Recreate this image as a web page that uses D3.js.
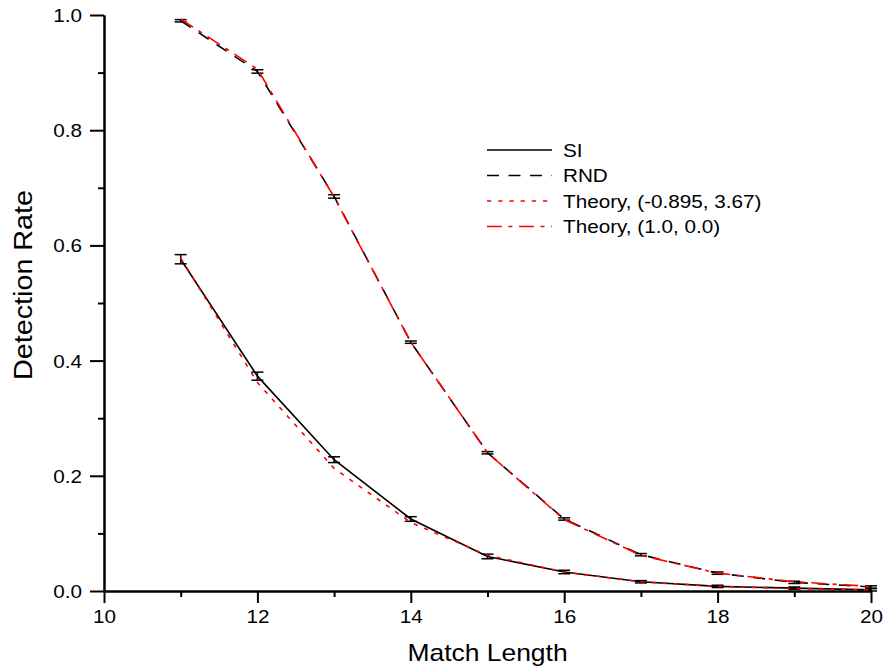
<!doctype html>
<html>
<head>
	<script src="https://d3js.org/d3.v7.min.js"></script>
	<style>
		body { margin: 0; background: #fff; }
		text { font-family: "Liberation Sans", Arial, sans-serif; fill: #000; }
	</style>
</head>
<body>
	<div id="viz">
		<svg style="width:885px;height:672px;"></svg>
	</div>
	<script>
		// match lengths on x
		var matchLength = [11, 12, 13, 14, 15, 16, 17, 18, 19, 20];
		// measured rates with error
		var siRate = [0.576, 0.373, 0.228, 0.125, 0.060, 0.033, 0.016, 0.008, 0.005, 0.002];
		var siErr = [0.008, 0.007, 0.005, 0.004, 0.004, 0.003, 0.002, 0.002, 0.002, 0.002];
		var rndRate = [0.990, 0.902, 0.685, 0.432, 0.240, 0.125, 0.063, 0.031, 0.015, 0.007];
		var rndErr = [0.002, 0.003, 0.003, 0.002, 0.002, 0.002, 0.002, 0.002, 0.002, 0.002];
		// theoretical curves
		var theorySI = [0.578, 0.362, 0.213, 0.119, 0.062, 0.033, 0.016, 0.008, 0.004, 0.002];
		var theoryRND = [0.993, 0.906, 0.684, 0.432, 0.240, 0.124, 0.062, 0.031, 0.016, 0.008];

		var xTicks = [10, 12, 14, 16, 18, 20];
		var yTicks = [0, 0.2, 0.4, 0.6, 0.8, 1.0];
		var legendLabels = ["SI", "RND", "Theory, (-0.895, 3.67)", "Theory, (1.0, 0.0)"];

		dataViz();
		function dataViz() {
			var margin = {top: 15, right: 14, bottom: 81, left: 104};
			var width = 885, height = 672;
			var stretch = 1.15; // text in the original is a bit wide
			var svg = d3.select("svg");

			var xScale = d3.scaleLinear()
				.domain([10, 20])
				.range([margin.left, width - margin.right]);
			var yScale = d3.scaleLinear()
				.domain([0, 1])
				.range([height - margin.bottom, margin.top]);

			// axes: major ticks + minor ticks
			var xAxis = d3.axisBottom(xScale).tickValues(xTicks).tickFormat(d3.format("d"))
				.tickSizeInner(12).tickSizeOuter(0).tickPadding(7);
			var xMinor = d3.axisBottom(xScale).tickValues([11, 13, 15, 17, 19])
				.tickFormat("").tickSizeInner(6).tickSizeOuter(0);
			var yAxis = d3.axisLeft(yScale).tickValues(yTicks).tickFormat(d3.format(".1f"))
				.tickSizeInner(14).tickSizeOuter(0);
			var yMinor = d3.axisLeft(yScale).tickValues([0.1, 0.3, 0.5, 0.7, 0.9])
				.tickFormat("").tickSizeInner(6).tickSizeOuter(0);

			function styleAxis(g) {
				g.select(".domain").attr("stroke", "#000").attr("stroke-width", 2);
				g.selectAll(".tick line").attr("stroke", "#000").attr("stroke-width", 2);
				g.selectAll(".tick text").attr("font-size", 18).attr("fill", "#000")
					.attr("font-family", null);
			}

			svg.append("g")
				.attr("transform", "translate(0," + (height - margin.bottom) + ")")
				.call(xMinor).call(styleAxis);
			var gx = svg.append("g")
				.attr("transform", "translate(0," + (height - margin.bottom) + ")")
				.call(xAxis).call(styleAxis);
			gx.selectAll(".tick text").attr("transform", "scale(" + stretch + ",1)");

			svg.append("g")
				.attr("transform", "translate(" + margin.left + ",0)")
				.call(yMinor).call(styleAxis);
			var gy = svg.append("g")
				.attr("transform", "translate(" + margin.left + ",0)")
				.call(yAxis).call(styleAxis);
			gy.selectAll(".tick text")
				.attr("x", 0)
				.attr("dy", "0.36em")
				.attr("transform", "translate(-22,0) scale(" + stretch + ",1)");

			// axis titles
			svg.append("text")
				.attr("transform", "translate(" + ((margin.left + width - margin.right) / 2) + ",661) scale(" + stretch + ",1)")
				.attr("text-anchor", "middle")
				.attr("font-size", 23)
				.text("Match Length");
			svg.append("text")
				.attr("transform", "translate(32,285) rotate(-90) scale(1.25," + stretch + ")")
				.attr("text-anchor", "middle")
				.attr("font-size", 23)
				.text("Detection Rate");

			var line = d3.line()
				.x(d => xScale(d[0]))
				.y(d => yScale(d[1]));

			function series(vals) {
				return matchLength.map((m, i) => [m, vals[i]]);
			}

			var styles = [
				{vals: siRate, color: "#000", dash: null},
				{vals: rndRate, color: "#000", dash: "12,9.5"},
				{vals: theorySI, color: "#ff0000", dash: "4.3,6.9"},
				{vals: theoryRND, color: "#ff0000", dash: "14.7,6.7,4,6.7"}
			];

			// error bars
			function errorBars(vals, errs) {
				var g = svg.append("g");
				var pts = matchLength.map((m, i) => ({x: m, y: vals[i], e: errs[i]}));
				g.selectAll("line.v").data(pts).enter().append("line")
					.attr("x1", d => xScale(d.x)).attr("x2", d => xScale(d.x))
					.attr("y1", d => yScale(d.y - d.e)).attr("y2", d => yScale(d.y + d.e))
					.attr("stroke", "#000").attr("stroke-width", 1.5);
				[1, -1].forEach(function(s) {
					g.selectAll(null).data(pts).enter().append("line")
						.attr("x1", d => xScale(d.x) - 6).attr("x2", d => xScale(d.x) + 6)
						.attr("y1", d => yScale(d.y + s * d.e)).attr("y2", d => yScale(d.y + s * d.e))
						.attr("stroke", "#000").attr("stroke-width", 1.5);
				});
			}
			errorBars(siRate, siErr);
			errorBars(rndRate, rndErr);

			styles.forEach(function(s) {
				svg.append("path")
					.datum(series(s.vals))
					.attr("d", line)
					.attr("fill", "none")
					.attr("stroke", s.color)
					.attr("stroke-width", 1.6)
					.attr("stroke-dasharray", s.dash);
			});

			// legend
			var legend = svg.append("g").attr("transform", "translate(487,150)");
			legendLabels.forEach(function(lab, i) {
				var row = legend.append("g").attr("transform", "translate(0," + (i * 25.5) + ")");
				row.append("line")
					.attr("x1", 0).attr("x2", 65).attr("y1", 0).attr("y2", 0)
					.attr("stroke", styles[i].color)
					.attr("stroke-width", 1.6)
					.attr("stroke-dasharray", styles[i].dash);
				row.append("text")
					.attr("transform", "translate(76,6.5) scale(" + stretch + ",1)")
					.attr("font-size", 18)
					.text(lab);
			});
		}
	</script>
</body>
</html>
